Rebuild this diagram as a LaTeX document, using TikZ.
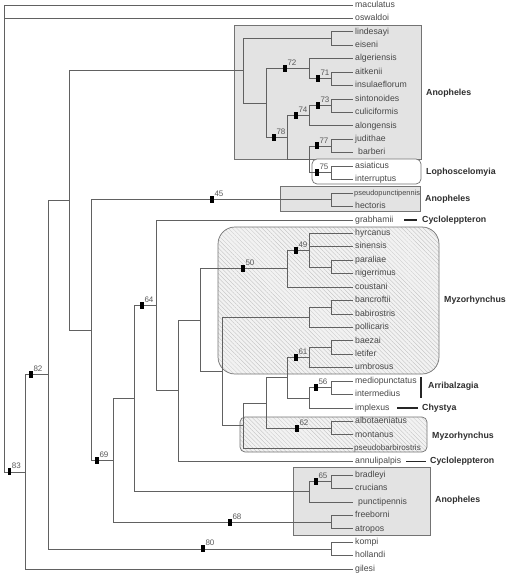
\documentclass[tikz,border=0pt]{standalone}
\usepackage{fontspec}
\setmainfont{Liberation Sans}
\usetikzlibrary{positioning,patterns.meta}

\tikzset{
  branch/.style={draw=black!62, line width=0.8pt},
  taxon/.style={anchor=west, inner xsep=2pt, inner ysep=0pt, text height=6pt, text depth=1.5pt,
    font=\fontsize{8.7}{10}\selectfont, text=black!72},
  bsbar/.style={fill=black, minimum width=3.2pt, minimum height=7pt, inner sep=0pt},
  bsnum/.style={anchor=south west, inner sep=0.5pt, yshift=-1.5pt,
    font=\fontsize{8}{9}\selectfont, text=black!65},
  grouplab/.style={anchor=west, inner sep=1pt, font=\bfseries\fontsize{8.8}{10}\selectfont, text=black!82},
  grpline/.style={draw=black!85, line width=1.3pt},
  anobox/.style={fill=black!11, draw=black!55, line width=0.7pt},
  lophobox/.style={fill=white, draw=black!55, line width=0.7pt, rounded corners=5pt},
  myzobox/.style={draw=black!55, line width=0.7pt, preaction={fill=black!5},
    pattern={Lines[angle=-45,distance=3pt,line width=0.3pt]}, pattern color=black!25}
}

\begin{document}
\begin{tikzpicture}[x=1pt,y=-1pt]
\useasboundingbox (0,0) rectangle (508,577);

% group boxes
\path[anobox] (234,25) rectangle (421,159);
\path[lophobox] (312,159) rectangle (421,184);
\path[anobox] (280,186) rectangle (420,211);
\path[myzobox, rounded corners=17pt] (218,227) rectangle (439,374);
\path[myzobox, rounded corners=5pt] (240,417) rectangle (427,452);
\path[anobox] (293,467) rectangle (430,535);

% taxa
\node[taxon] (maculatus) at (353,5.0) {maculatus};
\node[taxon] (oswaldoi) at (353,18.4) {oswaldoi};
\node[taxon] (lindesayi) at (353,31.9) {lindesayi};
\node[taxon] (eiseni) at (353,45.3) {eiseni};
\node[taxon] (algeriensis) at (353,58.7) {algeriensis};
\node[taxon] (aitkenii) at (353,72.2) {aitkenii};
\node[taxon] (insulaeflorum) at (353,85.6) {insulaeflorum};
\node[taxon] (sintonoides) at (353,99.0) {sintonoides};
\node[taxon] (culiciformis) at (353,112.4) {culiciformis};
\node[taxon] (alongensis) at (353,125.9) {alongensis};
\node[taxon] (judithae) at (353,139.3) {judithae};
\node[taxon] (barberi) at (353,152.7) {\hspace{3pt}barberi};
\node[taxon] (asiaticus) at (353,166.2) {asiaticus};
\node[taxon] (interruptus) at (353,179.6) {interruptus};
\node[taxon, inner xsep=1pt, font=\fontsize{7.4}{9}\selectfont] (pseudopunctipennis) at (353,193.0) {pseudopunctipennis};
\node[taxon] (hectoris) at (353,206.5) {hectoris};
\node[taxon] (grabhamii) at (353,219.9) {grabhamii};
\node[taxon] (hyrcanus) at (353,233.3) {hyrcanus};
\node[taxon] (sinensis) at (353,246.7) {sinensis};
\node[taxon] (paraliae) at (353,260.2) {paraliae};
\node[taxon] (nigerrimus) at (353,273.6) {nigerrimus};
\node[taxon] (coustani) at (353,287.0) {coustani};
\node[taxon] (bancroftii) at (353,300.5) {bancroftii};
\node[taxon] (babirostris) at (353,313.9) {babirostris};
\node[taxon] (pollicaris) at (353,327.3) {pollicaris};
\node[taxon] (baezai) at (353,340.8) {baezai};
\node[taxon] (letifer) at (353,354.2) {letifer};
\node[taxon] (umbrosus) at (353,367.6) {umbrosus};
\node[taxon] (mediopunctatus) at (353,381.0) {mediopunctatus};
\node[taxon] (intermedius) at (353,394.5) {intermedius};
\node[taxon] (implexus) at (353,407.9) {implexus};
\node[taxon] (albotaeniatus) at (353,421.3) {albotaeniatus};
\node[taxon] (montanus) at (353,434.8) {montanus};
\node[taxon, inner xsep=1pt, font=\fontsize{8.1}{9}\selectfont] (pseudobarbirostris) at (353,448.2) {pseudobarbirostris};
\node[taxon] (annulipalpis) at (353,461.6) {annulipalpis};
\node[taxon] (bradleyi) at (353,475.1) {bradleyi};
\node[taxon] (crucians) at (353,488.5) {crucians};
\node[taxon] (punctipennis) at (353,501.9) {\hspace{3pt}punctipennis};
\node[taxon] (freeborni) at (353,515.3) {freeborni};
\node[taxon] (atropos) at (353,528.8) {atropos};
\node[taxon] (kompi) at (353,542.2) {kompi};
\node[taxon] (hollandi) at (353,555.6) {hollandi};
\node[taxon] (gilesi) at (353,569.0) {gilesi};

% internal nodes
\coordinate (root) at (4,5);
\coordinate (n83) at (25,471.9);
\coordinate (n82) at (48,374.7);
\coordinate (nKH) at (331,548.9);
\coordinate (nA) at (69,200.5);
\coordinate (nAno) at (243,70.9);
\coordinate (nLE) at (331,38.6);
\coordinate (nC) at (266,103.2);
\coordinate (n72) at (309,68.8);
\coordinate (n71) at (331,78.9);
\coordinate (n78) at (287,137.6);
\coordinate (n74) at (309,115.8);
\coordinate (n73) at (331,105.7);
\coordinate (nJ) at (309,159.5);
\coordinate (n77) at (331,146.0);
\coordinate (n75) at (331,172.9);
\coordinate (nB) at (91,330.0);
\coordinate (nPH) at (331,199.8);
\coordinate (n69) at (113,460.3);
\coordinate (nFA) at (331,522.0);
\coordinate (nD) at (134,398.6);
\coordinate (nBCP) at (309,491.8);
\coordinate (n65) at (331,481.8);
\coordinate (n64) at (156,305.4);
\coordinate (nE) at (178,390.8);
\coordinate (nF) at (200,320.0);
\coordinate (n50) at (287,268.5);
\coordinate (n49) at (309,250.1);
\coordinate (nPN) at (331,266.9);
\coordinate (nG) at (222,371.4);
\coordinate (nBBP) at (309,317.3);
\coordinate (nBB) at (331,307.2);
\coordinate (nH) at (243,425.6);
\coordinate (nI) at (266,402.9);
\coordinate (nJ2) at (287,377.7);
\coordinate (n61) at (309,357.6);
\coordinate (nBL) at (331,347.5);
\coordinate (nK) at (309,397.9);
\coordinate (n56) at (331,387.8);
\coordinate (n62) at (331,428.1);

% branches
\draw[branch] (root) |- (maculatus.west) (root) |- (oswaldoi.west) (root) |- (n83);
\draw[branch] (n83) |- (n82) (n83) |- (gilesi.west);
\draw[branch] (n82) |- (nA) (n82) |- (nKH);
\draw[branch] (nKH) |- (kompi.west) (nKH) |- (hollandi.west);
\draw[branch] (nA) |- (nAno) (nA) |- (nB);
\draw[branch] (nAno) |- (nLE) (nAno) |- (nC);
\draw[branch] (nLE) |- (lindesayi.west) (nLE) |- (eiseni.west);
\draw[branch] (nC) |- (n72) (nC) |- (n78);
\draw[branch] (n72) |- (algeriensis.west) (n72) |- (n71);
\draw[branch] (n71) |- (aitkenii.west) (n71) |- (insulaeflorum.west);
\draw[branch] (n78) |- (n74) (n78) |- (nJ);
\draw[branch] (n74) |- (n73) (n74) |- (alongensis.west);
\draw[branch] (n73) |- (sintonoides.west) (n73) |- (culiciformis.west);
\draw[branch] (nJ) |- (n77) (nJ) |- (n75);
\draw[branch] (n77) |- (judithae.west) (n77) |- (barberi.west);
\draw[branch] (n75) |- (asiaticus.west) (n75) |- (interruptus.west);
\draw[branch] (nB) |- (nPH) (nB) |- (n69);
\draw[branch] (nPH) |- (pseudopunctipennis.west) (nPH) |- (hectoris.west);
\draw[branch] (n69) |- (nD) (n69) |- (nFA);
\draw[branch] (nFA) |- (freeborni.west) (nFA) |- (atropos.west);
\draw[branch] (nD) |- (n64) (nD) |- (nBCP);
\draw[branch] (nBCP) |- (n65) (nBCP) |- (punctipennis.west);
\draw[branch] (n65) |- (bradleyi.west) (n65) |- (crucians.west);
\draw[branch] (n64) |- (grabhamii.west) (n64) |- (nE);
\draw[branch] (nE) |- (nF) (nE) |- (annulipalpis.west);
\draw[branch] (nF) |- (n50) (nF) |- (nG);
\draw[branch] (n50) |- (n49) (n50) |- (coustani.west);
\draw[branch] (n49) |- (hyrcanus.west) (n49) |- (sinensis.west) (n49) |- (nPN);
\draw[branch] (nPN) |- (paraliae.west) (nPN) |- (nigerrimus.west);
\draw[branch] (nG) |- (nBBP) (nG) |- (nH);
\draw[branch] (nBBP) |- (nBB) (nBBP) |- (pollicaris.west);
\draw[branch] (nBB) |- (bancroftii.west) (nBB) |- (babirostris.west);
\draw[branch] (nH) |- (nI) (nH) |- (pseudobarbirostris.west);
\draw[branch] (nI) |- (nJ2) (nI) |- (n62);
\draw[branch] (nJ2) |- (n61) (nJ2) |- (nK);
\draw[branch] (n61) |- (nBL) (n61) |- (umbrosus.west);
\draw[branch] (nBL) |- (baezai.west) (nBL) |- (letifer.west);
\draw[branch] (nK) |- (n56) (nK) |- (implexus.west);
\draw[branch] (n56) |- (mediopunctatus.west) (n56) |- (intermedius.west);
\draw[branch] (n62) |- (albotaeniatus.west) (n62) |- (montanus.west);

% support bars
\node[bsbar] (b83) at (9.5,471.9) {};
\node[bsnum] (t83) at (b83.north east) {83};
\node[bsbar] (b82) at (31,374.7) {};
\node[bsnum] (t82) at (b82.north east) {82};
\node[bsbar] (b80) at (203,548.9) {};
\node[bsnum] (t80) at (b80.north east) {80};
\node[bsbar] (b72) at (285,68.8) {};
\node[bsnum] (t72) at (b72.north east) {72};
\node[bsbar] (b71) at (318,78.9) {};
\node[bsnum] (t71) at (b71.north east) {71};
\node[bsbar] (b73) at (318,105.7) {};
\node[bsnum] (t73) at (b73.north east) {73};
\node[bsbar] (b74) at (296,115.8) {};
\node[bsnum] (t74) at (b74.north east) {74};
\node[bsbar] (b78) at (274,137.6) {};
\node[bsnum] (t78) at (b78.north east) {78};
\node[bsbar] (b77) at (317,146.0) {};
\node[bsnum] (t77) at (b77.north east) {77};
\node[bsbar] (b75) at (317,172.9) {};
\node[bsnum] (t75) at (b75.north east) {75};
\node[bsbar] (b45) at (212,199.8) {};
\node[bsnum] (t45) at (b45.north east) {45};
\node[bsbar] (b50) at (243,268.5) {};
\node[bsnum] (t50) at (b50.north east) {50};
\node[bsbar] (b49) at (296,250.1) {};
\node[bsnum] (t49) at (b49.north east) {49};
\node[bsbar] (b64) at (142,305.4) {};
\node[bsnum] (t64) at (b64.north east) {64};
\node[bsbar] (b61) at (296,357.6) {};
\node[bsnum] (t61) at (b61.north east) {61};
\node[bsbar] (b56) at (316,387.8) {};
\node[bsnum] (t56) at (b56.north east) {56};
\node[bsbar] (b62) at (297,428.1) {};
\node[bsnum] (t62) at (b62.north east) {62};
\node[bsbar] (b69) at (97,460.3) {};
\node[bsnum] (t69) at (b69.north east) {69};
\node[bsbar] (b68) at (230,522.0) {};
\node[bsnum] (t68) at (b68.north east) {68};
\node[bsbar] (b65) at (316,481.8) {};
\node[bsnum] (t65) at (b65.north east) {65};

% group names
\node[grouplab] (gAno1) at (425,93) {Anopheles};
\node[grouplab] (gLopho) at (425,172) {Lophoscelomyia};
\node[grouplab] (gAno2) at (424,199) {Anopheles};
\node[grouplab] (gCyc1) at (421,219.9) {Cycloleppteron};
\coordinate (c1) at (404,219.9);
\draw[grpline] (c1) -- ([xshift=-4pt]gCyc1.west);
\node[grouplab] (gMyz1) at (443,300) {Myzorhynchus};
\node[grouplab] (gArri) at (427,386) {Arribalzagia};
\coordinate (a1) at (421,377);
\coordinate (a2) at (421,398);
\draw[grpline] (a1) -- (a2);
\node[grouplab] (gChys) at (421,407.9) {Chystya};
\coordinate (c2) at (397,407.9);
\draw[grpline] (c2) -- ([xshift=-3pt]gChys.west);
\node[grouplab] (gMyz2) at (431,436) {Myzorhynchus};
\node[grouplab] (gCyc2) at (429,461.6) {Cycloleppteron};
\coordinate (c3) at (406,461.6);
\draw[grpline] (c3) -- ([xshift=-3pt]gCyc2.west);
\node[grouplab] (gAno3) at (434,500) {Anopheles};
\end{tikzpicture}
\end{document}
